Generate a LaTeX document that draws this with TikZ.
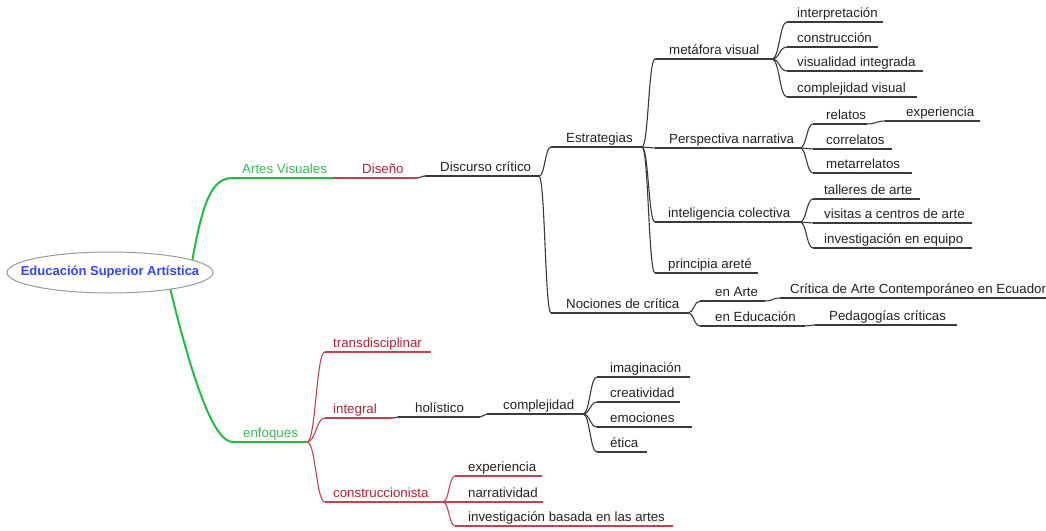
\documentclass[tikz,border=0pt]{standalone}
\usepackage{fontspec}
\setmainfont{Liberation Sans}
\usetikzlibrary{calc,shapes.geometric}
\definecolor{gline}{HTML}{22BB44}
\definecolor{gtext}{HTML}{33BB55}
\definecolor{rline}{HTML}{C04450}
\definecolor{rtext}{HTML}{B22234}
\definecolor{bline}{HTML}{3A3A3A}
\definecolor{btext}{HTML}{222222}
\definecolor{roottext}{HTML}{3344FF}
\tikzset{
  gl/.style={draw=gline, line width=2pt},
  rl/.style={draw=rline, line width=1.1pt},
  bl/.style={draw=bline, line width=1.1pt},
  lbl/.style={anchor=base west, inner sep=0pt, font=\fontsize{13.3}{16}\selectfont}
}
% name, text x, line y, line start x, line end x, text, text colour, line style
\newcommand\mmn[8]{%
  \coordinate (#1-s) at (#4,#3);
  \coordinate (#1-e) at (#5,#3);
  \node[lbl, text=#7] (#1) at (#2,#3-5) {#6};
  \draw[#8] (#1-s) -- (#1-e);
}
% style, parent, child
\newcommand\mmc[3]{%
  \draw[#1] let \p1=(#2-e), \p2=(#3-s), \n1={0.5*\x1+0.5*\x2} in
    (\p1) .. controls (\n1,\y1) and (\n1,\y2) .. (\p2);
}
\begin{document}
\begin{tikzpicture}[x=1pt,y=-1pt]
\useasboundingbox (0,0) rectangle (1046,530);
% upper branch
\mmn{av}{242}{178}{233}{333}{Artes Visuales}{gtext}{gl}
\mmn{dis}{362}{178}{333}{417}{Diseño}{rtext}{rl}
\mmn{dc}{440}{176}{425}{539}{Discurso crítico}{btext}{bl}
\mmn{est}{566}{147}{551}{642}{Estrategias}{btext}{bl}
\mmn{noc}{566}{313}{551}{688}{Nociones de crítica}{btext}{bl}
\mmn{mv}{669}{59}{655}{772}{metáfora visual}{btext}{bl}
\mmn{pn}{669}{148}{655}{800}{Perspectiva narrativa}{btext}{bl}
\mmn{ic}{668}{222}{655}{800}{inteligencia colectiva}{btext}{bl}
\mmn{pa}{668}{273}{655}{758}{principia areté}{btext}{bl}
\mmn{int}{797}{22}{787}{883}{interpretación}{btext}{bl}
\mmn{con}{797}{47}{787}{878}{construcción}{btext}{bl}
\mmn{vi}{797}{71}{787}{923}{visualidad integrada}{btext}{bl}
\mmn{cv}{797}{97}{787}{917}{complejidad visual}{btext}{bl}
\mmn{rel}{826}{124}{813}{867}{relatos}{btext}{bl}
\mmn{exp}{906}{121}{885}{980}{experiencia}{btext}{bl}
\mmn{cor}{826}{149}{813}{892}{correlatos}{btext}{bl}
\mmn{met}{826}{173}{813}{912}{metarrelatos}{btext}{bl}
\mmn{tal}{824}{199}{813}{920}{talleres de arte}{btext}{bl}
\mmn{vis}{824}{223}{813}{972}{visitas a centros de arte}{btext}{bl}
\mmn{ie}{824}{248}{813}{972}{investigación en equipo}{btext}{bl}
\mmn{ea}{715}{301}{700}{765}{en Arte}{btext}{bl}
\mmn{cac}{790}{298}{780}{1046}{Crítica de Arte Contemporáneo en Ecuador}{btext}{bl}
\mmn{ee}{715}{326}{700}{805}{en Educación}{btext}{bl}
\mmn{pc}{829}{325}{815}{957}{Pedagogías críticas}{btext}{bl}
% lower branch
\mmn{enf}{243}{442}{233}{307}{enfoques}{gtext}{gl}
\mmn{tra}{333}{352}{325}{431}{transdisciplinar}{rtext}{rl}
\mmn{intg}{333}{418}{325}{393}{integral}{rtext}{rl}
\mmn{hol}{415}{417}{398}{480}{holístico}{btext}{bl}
\mmn{com}{503}{414}{487}{583}{complejidad}{btext}{bl}
\mmn{ima}{610}{377}{597}{690}{imaginación}{btext}{bl}
\mmn{cre}{610}{402}{597}{680}{creatividad}{btext}{bl}
\mmn{emo}{610}{427}{597}{692}{emociones}{btext}{bl}
\mmn{eti}{610}{452}{597}{647}{ética}{btext}{bl}
\mmn{cons}{333}{502}{325}{443}{construccionista}{rtext}{rl}
\mmn{exp2}{468}{476}{455}{542}{experiencia}{btext}{rl}
\mmn{nar}{468}{502}{455}{543}{narratividad}{btext}{rl}
\mmn{iba}{468}{526}{455}{673}{investigación basada en las artes}{btext}{rl}
% connectors
\coordinate (root-a) at (192,262);
\coordinate (root-b) at (170,288);
\draw[gl] (root-a) .. controls (203,200) and (212,178) .. (av-s);
\draw[gl] (root-b) .. controls (195,390) and (215,442) .. (enf-s);
\mmc{rl}{av}{dis}
\mmc{bl}{dis}{dc}
\mmc{bl}{dc}{est}
\mmc{bl}{dc}{noc}
\mmc{bl}{est}{mv}
\mmc{bl}{est}{pn}
\mmc{bl}{est}{ic}
\mmc{bl}{est}{pa}
\mmc{bl}{mv}{int}
\mmc{bl}{mv}{con}
\mmc{bl}{mv}{vi}
\mmc{bl}{mv}{cv}
\mmc{bl}{pn}{rel}
\mmc{bl}{rel}{exp}
\mmc{bl}{pn}{cor}
\mmc{bl}{pn}{met}
\mmc{bl}{ic}{tal}
\mmc{bl}{ic}{vis}
\mmc{bl}{ic}{ie}
\mmc{bl}{noc}{ea}
\mmc{bl}{ea}{cac}
\mmc{bl}{noc}{ee}
\mmc{bl}{ee}{pc}
\mmc{rl}{enf}{tra}
\mmc{rl}{enf}{intg}
\mmc{rl}{enf}{cons}
\mmc{bl}{intg}{hol}
\mmc{bl}{hol}{com}
\mmc{bl}{com}{ima}
\mmc{bl}{com}{cre}
\mmc{bl}{com}{emo}
\mmc{bl}{com}{eti}
\mmc{rl}{cons}{exp2}
\mmc{rl}{cons}{nar}
\mmc{rl}{cons}{iba}
% root
\node[ellipse, draw=gray!80, fill=white, line width=1pt, minimum width=206pt, minimum height=41pt, inner sep=0pt] (root) at (110,272.5) {};
\node[inner sep=0pt, font=\bfseries\fontsize{13}{16}\selectfont, text=roottext] (roottxt) at (root.center) {Educación Superior Artística};
\end{tikzpicture}
\end{document}
